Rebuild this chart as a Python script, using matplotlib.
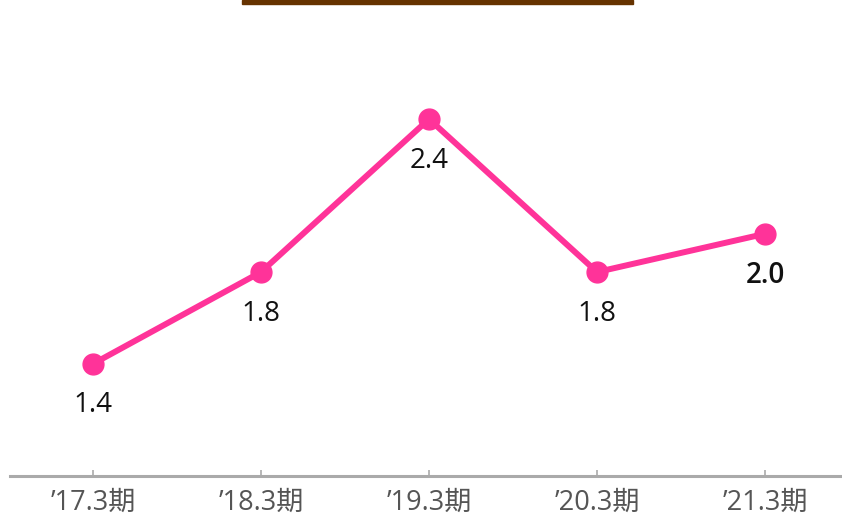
import matplotlib.pyplot as plt
from matplotlib.patches import Rectangle

plt.rcParams['font.family'] = ['Open Sans', 'Noto Sans CJK JP', 'DejaVu Sans']

# data
periods = ["’17.3期", "’18.3期", "’19.3期", "’20.3期", "’21.3期"]
values = [1.44, 1.8, 2.4, 1.8, 1.95]
value_labels = ["1.4", "1.8", "2.4", "1.8", "2.0"]

fig = plt.figure(figsize=(8.42, 5.2), dpi=100)
ax = fig.add_axes([10 / 842, 44 / 520, 832 / 842, 476 / 520])

x = list(range(len(periods)))
ax.plot(x, values, color='#ff3399', linewidth=4.3, marker='o', markersize=15,
        solid_capstyle='round', zorder=3, clip_on=False)

for i, (v, lab) in enumerate(zip(values, value_labels)):
    bold = i == len(values) - 1
    ax.annotate(lab, (i, v), xytext=(0, -30), textcoords='offset points',
                ha='center', va='center', fontsize=20, color='#111111',
                fontweight='semibold' if bold else 'normal')

ax.set_xlim(-0.494, 4.458)
ax.set_ylim(1.0, 2.867)
ax.set_xticks(x)
ax.set_xticklabels(periods, fontsize=19.5, color='#555555')
ax.set_yticks([])
for s in ['top', 'right', 'left']:
    ax.spines[s].set_visible(False)
ax.spines['bottom'].set_color('#aaaaaa')
ax.spines['bottom'].set_linewidth(2.2)
ax.tick_params(axis='x', direction='in', length=4, width=1.2, color='#aaaaaa', pad=9)

# brown bar at the top
fig.patches.append(Rectangle((242 / 842, 1 - 4 / 520), 391 / 842, 4 / 520,
                             transform=fig.transFigure, color='#663300'))

fig.savefig('out.png', dpi=100)
